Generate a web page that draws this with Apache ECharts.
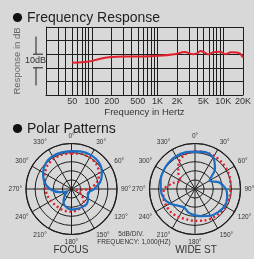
<!DOCTYPE html>
<html>
<head>
<meta charset="utf-8">
<script src="https://cdn.jsdelivr.net/npm/echarts@6/dist/echarts.min.js"></script>
<style>
html, body { margin: 0; padding: 0; background: #d8d8d8; }
#main { width: 254px; height: 259px; }
</style>
</head>
<body>
<div id="main"></div>
<script>
// frequency response (Hz / dB)
var freqs = [50, 70, 90, 130, 180, 300, 600, 1000, 1800, 2600, 3400, 4000, 4500, 5200, 6000, 7000, 9000, 10800, 13000, 16000, 18000, 20000];
var responseDb = [23.8, 24.0, 24.6, 26.5, 27.8, 28.4, 28.4, 28.8, 30.0, 31.6, 30.0, 30.6, 32.4, 31.2, 29.9, 31.5, 31.8, 30.0, 31.4, 31.2, 30.4, 27.7];
var freqLabels = [50, 100, 200, 500, 1000, 2000, 5000, 10000, 20000];
var gridFreqs = [20, 30, 40, 50, 60, 70, 80, 90, 100, 200, 300, 400, 500, 600, 700, 800, 900,
                 1000, 2000, 3000, 4000, 5000, 6000, 7000, 8000, 9000, 10000, 20000];

// polar patterns, 5dB per ring
var angles = [0, 15, 30, 45, 60, 75, 90, 105, 120, 135, 150, 165, 180, 195, 210, 225, 240, 255, 270, 285, 300, 315, 330, 345];
var focusBlue = [20.8, 21.3, 21.5, 21.0, 19.3, 16.5, 12.5, 9.3, 10.5, 11.8, 11.5, 11.3, 11.3, 10.5, 8.8, 5.5, 2.5, 6.8, 11.8, 15.5, 18.0, 20.0, 20.8, 20.8];
var focusRed = [19.5, 20.0, 20.0, 19.3, 17.5, 14.5, 9.5, 3.0, 6.3, 9.5, 11.3, 12.0, 12.5, 12.5, 12.5, 12.5, 13.0, 13.8, 14.3, 15.5, 17.0, 18.5, 19.3, 19.5];
var wideBlue = [20.5, 21.0, 20.0, 15.5, 9.3, 13.8, 17.0, 18.3, 18.8, 18.0, 17.0, 15.5, 14.5, 13.5, 11.8, 13.0, 16.0, 18.0, 18.8, 19.5, 20.0, 20.5, 20.8, 20.8];
var wideRed = [20.8, 21.0, 21.0, 20.8, 20.5, 20.0, 19.5, 19.5, 19.5, 19.0, 18.5, 18.0, 17.5, 17.3, 17.8, 18.3, 18.3, 18.0, 17.0, 12.5, 9.3, 13.0, 17.5, 19.8];

var FONT = '"Liberation Sans", Arial, sans-serif';
var INK = '#1e1e1e';
var RED = '#e0202c';
var BLUE = '#1b6ec2';

function log10(v) { return Math.log(v) / Math.LN10; }
function freqText(v) {
    return v >= 1000 ? (v / 1000) + 'K' : String(v);
}
function polarData(vals) {
    var d = angles.map(function (a, i) { return [vals[i], a]; });
    d.push([vals[0], 360]);
    return d;
}

var polarRadius = {
    type: 'value', min: 0, max: 25, interval: 5,
    axisLine: { show: false }, axisTick: { show: false }, axisLabel: { show: false },
    splitLine: { show: true, lineStyle: { color: INK, width: 1 } }
};
var polarAngle = {
    type: 'value', min: 0, max: 360, interval: 30, startAngle: 90, clockwise: true,
    axisLine: { lineStyle: { color: INK, width: 1.2 } },
    axisTick: { show: false },
    axisLabel: { formatter: '{value}°', fontSize: 6.5, color: '#333', fontFamily: FONT, margin: 4 },
    splitLine: { show: true, lineStyle: { color: INK, width: 1 } }
};

var chart = echarts.init(document.getElementById('main'));
var option = {
    backgroundColor: '#d8d8d8',
    animation: false,
    title: [
        { text: 'Frequency Response', left: 27, top: 11, padding: 0,
          textStyle: { fontSize: 14, fontWeight: 'normal', color: INK, fontFamily: FONT } },
        { text: 'Polar Patterns', left: 27, top: 122, padding: 0,
          textStyle: { fontSize: 14, fontWeight: 'normal', color: INK, fontFamily: FONT } }
    ],
    grid: { left: 46, top: 27, width: 200, height: 68 },
    xAxis: {
        type: 'value', min: log10(20), max: log10(20000),
        name: 'Frequency in Hertz', nameLocation: 'middle', nameGap: 12,
        nameTextStyle: { fontSize: 9.5, color: '#333', fontFamily: FONT },
        axisLine: { lineStyle: { color: INK } },
        axisTick: { show: false },
        splitLine: { show: false },
        axisLabel: {
            customValues: freqLabels.map(log10),
            formatter: function (v) { return freqText(Math.round(Math.pow(10, v))); },
            fontSize: 9, color: '#333', fontFamily: FONT, margin: 2
        }
    },
    yAxis: {
        type: 'value', min: 0, max: 50, interval: 10,
        name: 'Response in dB', nameLocation: 'middle', nameGap: 24, nameRotate: 90,
        nameTextStyle: { fontSize: 9.5, color: '#666', fontFamily: FONT },
        axisLine: { show: true, lineStyle: { color: INK } },
        axisTick: { show: false },
        axisLabel: { show: false },
        splitLine: { lineStyle: { color: INK, width: 1 } }
    },
    polar: [
        { center: [71.5, 189], radius: 45.5 },
        { center: [195, 189], radius: 45.5 }
    ],
    radiusAxis: [
        Object.assign({ polarIndex: 0 }, polarRadius),
        Object.assign({ polarIndex: 1 }, polarRadius)
    ],
    angleAxis: [
        Object.assign({ polarIndex: 0 }, polarAngle),
        Object.assign({ polarIndex: 1 }, polarAngle)
    ],
    series: [
        {
            type: 'line', xAxisIndex: 0, yAxisIndex: 0,
            data: freqs.map(function (f, i) { return [log10(f), responseDb[i]]; }),
            smooth: 0.3, showSymbol: false,
            lineStyle: { color: RED, width: 2 },
            z: 5,
            markLine: {
                silent: true, symbol: 'none', label: { show: false },
                lineStyle: { color: INK, width: 1, type: 'solid' },
                data: gridFreqs.map(function (f) { return { xAxis: log10(f) }; })
            }
        },
        { type: 'line', coordinateSystem: 'polar', polarIndex: 0, data: polarData(focusRed),
          smooth: 0.3, showSymbol: false, lineStyle: { color: RED, width: 2.4, type: [2, 2.6] } },
        { type: 'line', coordinateSystem: 'polar', polarIndex: 0, data: polarData(focusBlue),
          smooth: 0.3, showSymbol: false, lineStyle: { color: BLUE, width: 2.2 } },
        { type: 'line', coordinateSystem: 'polar', polarIndex: 1, data: polarData(wideRed),
          smooth: 0.3, showSymbol: false, lineStyle: { color: RED, width: 2.4, type: [2, 2.6] } },
        { type: 'line', coordinateSystem: 'polar', polarIndex: 1, data: polarData(wideBlue),
          smooth: 0.3, showSymbol: false, lineStyle: { color: BLUE, width: 2.2 } }
    ]
};
chart.setOption(option);

// 10dB scale bracket left of the grid, title bullets, captions
var x0 = chart.convertToPixel({ gridIndex: 0 }, [log10(20), 0])[0] - 10;
function yPx(db) { return chart.convertToPixel({ gridIndex: 0 }, [log10(20), db])[1]; }
var ln = { stroke: INK, lineWidth: 1 };
function txt(t, x, y, size, color) {
    return { type: 'text', x: x, y: y, silent: true,
             style: { text: t, fill: color || INK, font: size + 'px ' + FONT,
                      align: 'center', verticalAlign: 'middle',
                      textAlign: 'center', textVerticalAlign: 'middle' } };
}
chart.setOption({
    graphic: [
        { type: 'circle', shape: { cx: 17.5, cy: 17.5, r: 4.6 }, style: { fill: '#111' } },
        { type: 'circle', shape: { cx: 17.5, cy: 128.5, r: 4.6 }, style: { fill: '#111' } },
        { type: 'line', shape: { x1: x0, y1: yPx(43), x2: x0, y2: yPx(30) }, style: ln },
        { type: 'line', shape: { x1: x0 - 3, y1: yPx(30), x2: x0 + 7, y2: yPx(30) }, style: ln },
        { type: 'line', shape: { x1: x0 - 3, y1: yPx(20), x2: x0 + 7, y2: yPx(20) }, style: ln },
        { type: 'line', shape: { x1: x0, y1: yPx(20), x2: x0, y2: yPx(7) }, style: ln },
        txt('10dB', x0 - 0.5, (yPx(30) + yPx(20)) / 2, 9, '#333'),
        txt('FOCUS', 71, 250, 10, '#333'),
        txt('WIDE ST', 196, 250, 10, '#333'),
        txt('5dB/DIV.', 131, 234, 6.5, '#333'),
        txt('FREQUENCY: 1,000(HZ)', 134, 242.5, 6.5, '#333')
    ]
});
</script>
</body>
</html>
